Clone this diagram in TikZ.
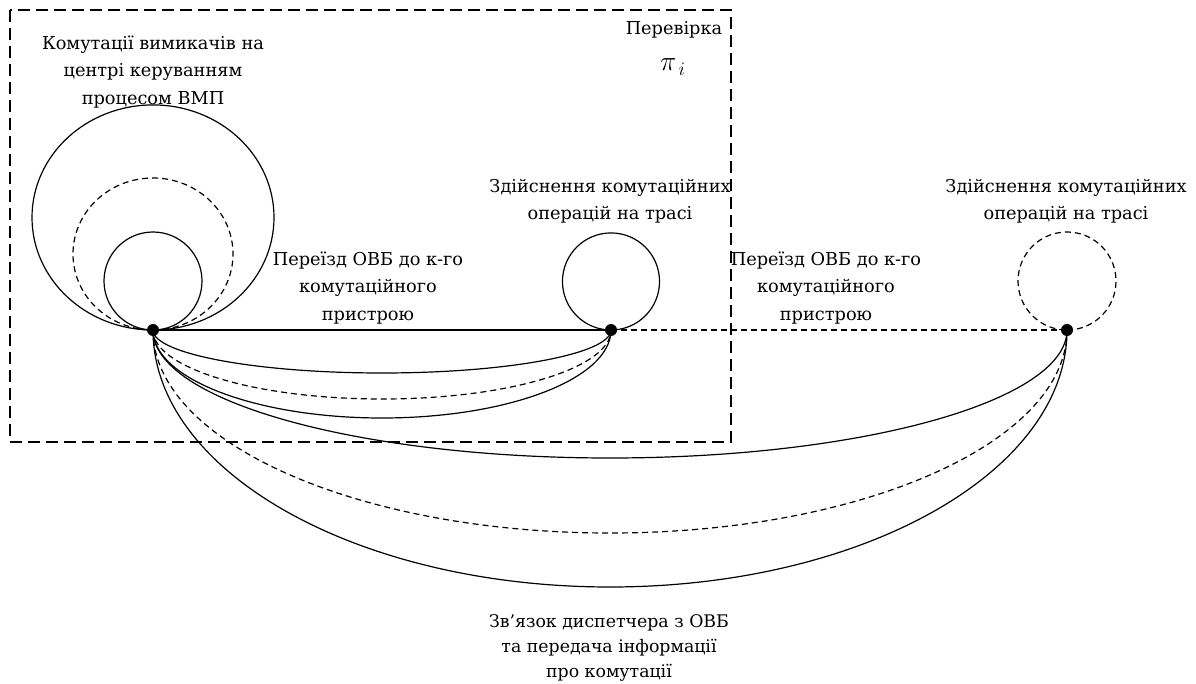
\documentclass[tikz,border=0pt]{standalone}
\usepackage{fontspec}
\setmainfont{DejaVu Serif}
\begin{document}
\begin{tikzpicture}[x=0.75pt,y=-0.75pt,
  line width=0.9pt,
  lbl/.style={align=center,inner sep=0pt,font=\fontsize{13.3}{20.6}\selectfont},
  dot/.style={circle,fill,inner sep=0pt,minimum size=9pt},
  shortdash/.style={dash pattern=on 4.5pt off 3pt},
  framedash/.style={dash pattern=on 9pt off 4.5pt}]
\useasboundingbox (0,0) rectangle (1196,684);

% switching points
\coordinate (A) at (153,330);
\coordinate (B) at (611,330);
\coordinate (C) at (1067,330);

% boundary of the checking stage
\coordinate (F1) at (10,10);
\coordinate (F2) at (731,442);
\draw[framedash] (F1) rectangle (F2);

% loops at the control centre
\draw (A) arc[start angle=-90,end angle=270,x radius=90.75pt,y radius=84.4pt];
\draw[shortdash] (A) arc[start angle=-90,end angle=270,x radius=60pt,y radius=57pt];
\draw (A) arc[start angle=-90,end angle=270,radius=36.75pt];

% loops at the track devices
\draw (B) arc[start angle=-90,end angle=270,radius=36.4pt];
\draw[shortdash] (C) arc[start angle=-90,end angle=270,radius=36.75pt];

% moves between devices
\draw (A) -- (B);
\draw[shortdash] (B) -- (C);

% return arcs to the first device
\draw (A) arc[start angle=180,end angle=360,x radius=171.75pt,y radius=32.25pt];
\draw[shortdash] (A) arc[start angle=180,end angle=360,x radius=171.75pt,y radius=51.75pt];
\draw (A) arc[start angle=180,end angle=360,x radius=171.75pt,y radius=66pt];

% return arcs to the second device
\draw (A) arc[start angle=180,end angle=360,x radius=342.75pt,y radius=96pt];
\draw[shortdash] (A) arc[start angle=180,end angle=360,x radius=342.75pt,y radius=152.25pt];
\draw (A) arc[start angle=180,end angle=360,x radius=342.75pt,y radius=192.75pt];

% vertices
\node[dot] (nA) at (A) {};
\node[dot] (nB) at (B) {};
\node[dot] (nC) at (C) {};

% labels
\node[lbl] (t1) at (153,72) {Комутації вимикачів на\\центрі керуванням\\процесом ВМП};
\node[lbl] (t2) at (674,30) {Перевірка};
\node[inner sep=0pt,font=\fontsize{22}{26}\selectfont] (t3) at (673,67) {$\pi_{\,i}$};
\node[lbl] (t4) at (610,201) {Здійснення комутаційних\\операцій на трасі};
\node[lbl] (t5) at (1066,201) {Здійснення комутаційних\\операцій на трасі};
\node[lbl] (t6) at (368,288) {Переїзд ОВБ до к-го\\комутаційного\\пристрою};
\node[lbl] (t7) at (826,288) {Переїзд ОВБ до к-го\\комутаційного\\пристрою};
\node[lbl,font=\fontsize{13}{19}\selectfont] (t8) at (609,648) {Зв’язок диспетчера з ОВБ\\та передача інформації\\про комутації};
\end{tikzpicture}
\end{document}
